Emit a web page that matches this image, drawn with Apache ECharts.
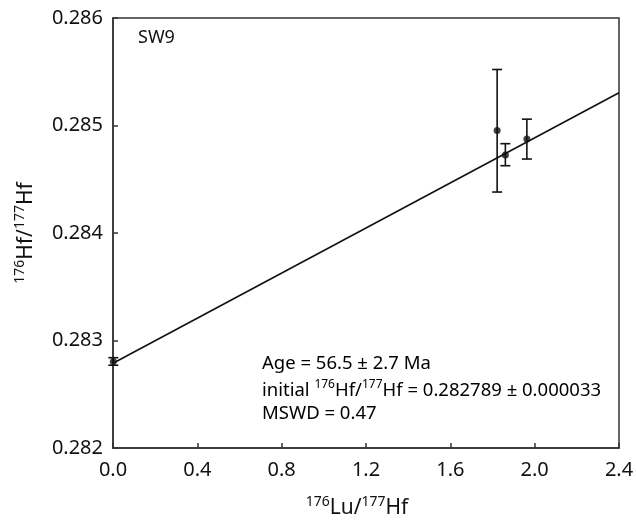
<!DOCTYPE html>
<html>
<head>
<meta charset="utf-8">
<script src="https://cdn.jsdelivr.net/npm/echarts@6/dist/echarts.min.js"></script>
<style>
  html, body { margin: 0; padding: 0; background: #fff; }
  #chart { width: 636px; height: 520px; }
</style>
</head>
<body>
<div id="chart"></div>
<script>
// data
var luHf   = [0.0015, 1.822, 1.861, 1.963];            // 176Lu/177Hf
var hfHf   = [0.282805, 0.284954, 0.284725, 0.284874]; // 176Hf/177Hf
var hfLow  = [0.282770, 0.284381, 0.284626, 0.284688]; // error bar bottom
var hfHigh = [0.282840, 0.285521, 0.284831, 0.285059]; // error bar top

// isochron line
var lineX = [0, 2.4];
var lineY = [0.282789, 0.285305];

var xTicks = [0, 0.4, 0.8, 1.2, 1.6, 2.0, 2.4];
var yTicks = [0.282, 0.283, 0.284, 0.285, 0.286];

var FONT = '"Noto Sans", "Open Sans", sans-serif';
var INK = '#111';

var pts = [], bars = [], fit = [];
for (var i = 0; i < luHf.length; i++) {
  pts.push([luHf[i], hfHf[i]]);
  bars.push([luHf[i], hfLow[i], hfHigh[i]]);
}
for (var j = 0; j < lineX.length; j++) fit.push([lineX[j], lineY[j]]);

var supStyle = {
  n: { fontFamily: FONT, fontSize: 18.5, color: INK, lineHeight: 24 },
  s: { fontFamily: FONT, fontSize: 12, color: INK, lineHeight: 24, verticalAlign: 'top' }
};
var titleRich = {
  n: { fontFamily: FONT, fontSize: 21, color: INK, lineHeight: 26 },
  s: { fontFamily: FONT, fontSize: 14, color: INK, lineHeight: 26, verticalAlign: 'top' }
};

function renderBar(params, api) {
  var x = api.value(0);
  var lo = api.coord([x, api.value(1)]);
  var hi = api.coord([x, api.value(2)]);
  var cap = 5;
  var st = { stroke: INK, lineWidth: 1.6 };
  return {
    type: 'group',
    children: [
      { type: 'line', shape: { x1: lo[0], y1: lo[1], x2: hi[0], y2: hi[1] }, style: st },
      { type: 'line', shape: { x1: lo[0] - cap, y1: lo[1], x2: lo[0] + cap, y2: lo[1] }, style: st },
      { type: 'line', shape: { x1: hi[0] - cap, y1: hi[1], x2: hi[0] + cap, y2: hi[1] }, style: st }
    ]
  };
}

var chart = echarts.init(document.getElementById('chart'));
var option = {
  animation: false,
  backgroundColor: '#fff',
  grid: {
    left: 113, right: 17, top: 18, bottom: 72,
    outerBoundsMode: 'none',
    show: true, borderColor: '#333', borderWidth: 1.5
  },
  xAxis: {
    type: 'value',
    min: xTicks[0], max: xTicks[xTicks.length - 1], interval: 0.4,
    name: '{s|176}{n|Lu/}{s|177}{n|Hf}',
    nameLocation: 'middle', nameGap: 47,
    nameTextStyle: { rich: titleRich, padding: [0, 18, 0, 0] },
    axisLine: { lineStyle: { color: '#333', width: 1.5 } },
    axisTick: { inside: true, length: 5, lineStyle: { color: '#333', width: 1.5 } },
    axisLabel: {
      margin: 12, fontFamily: FONT, fontSize: 20, color: INK,
      formatter: function (v) { return v.toFixed(1); }
    },
    splitLine: { show: false }
  },
  yAxis: {
    type: 'value',
    min: yTicks[0], max: yTicks[yTicks.length - 1], interval: 0.001,
    name: '{s|176}{n|Hf/}{s|177}{n|Hf}',
    nameLocation: 'middle', nameGap: 74, nameRotate: 90,
    nameTextStyle: { rich: titleRich },
    axisLine: { lineStyle: { color: '#333', width: 1.5 } },
    axisTick: { inside: true, length: 5, lineStyle: { color: '#333', width: 1.5 } },
    axisLabel: {
      margin: 10, fontFamily: FONT, fontSize: 20, color: INK,
      formatter: function (v) { return v.toFixed(3); }
    },
    splitLine: { show: false }
  },
  graphic: [
    { type: 'text', left: 138, top: 29, style: { text: 'SW9', font: '18px ' + FONT, fill: INK } },
    { type: 'text', left: 262, top: 354, style: { text: '{n|Age = 56.5 ± 2.7 Ma}', rich: supStyle } },
    { type: 'text', left: 262, top: 379, style: { text: '{n|initial }{s|176}{n|Hf/}{s|177}{n|Hf = 0.282789 ± 0.000033}', rich: supStyle } },
    { type: 'text', left: 262, top: 404, style: { text: '{n|MSWD = 0.47}', rich: supStyle } }
  ],
  series: [
    {
      type: 'line', data: fit, symbol: 'none',
      lineStyle: { color: INK, width: 1.6 }, z: 2
    },
    {
      type: 'custom', data: bars, renderItem: renderBar, z: 3
    },
    {
      type: 'scatter', data: pts, symbolSize: 7,
      itemStyle: { color: INK }, z: 4
    }
  ]
};
chart.setOption(option);
</script>
</body>
</html>
